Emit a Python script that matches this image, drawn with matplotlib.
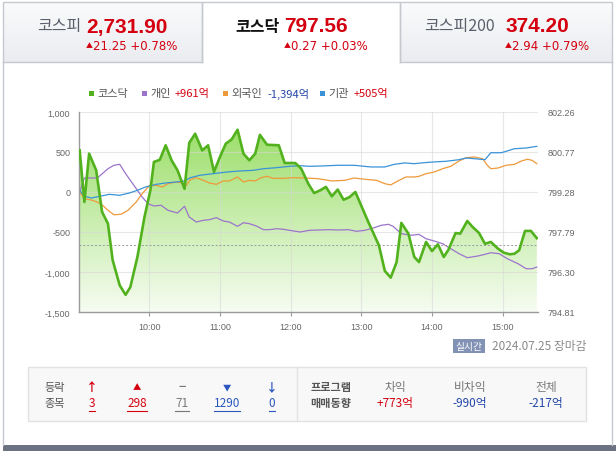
import numpy as np
import matplotlib
matplotlib.use("Agg")
import matplotlib.pyplot as plt
from matplotlib.colors import LinearSegmentedColormap
from matplotlib.patches import Rectangle

plt.rcParams['font.family'] = ['Noto Sans CJK KR', 'DejaVu Sans']

# ---- data ----
kosdaq_time = ["09:01", "09:05", "09:09", "09:15", "09:20", "09:25", "09:29", "09:35", "09:40", "09:44",
               "09:50", "09:56", "10:01", "10:04", "10:09", "10:14", "10:19", "10:24", "10:30", "10:34",
               "10:39", "10:45", "10:50", "10:55", "11:00", "11:05", "11:10", "11:15", "11:20", "11:25",
               "11:30", "11:34", "11:40", "11:50", "11:55", "12:04", "12:09", "12:15", "12:20", "12:25",
               "12:30", "12:35", "12:40", "12:45", "12:50", "12:55", "13:06", "13:15", "13:20", "13:25",
               "13:30", "13:34", "13:40", "13:45", "13:49", "13:55", "14:00", "14:05", "14:10", "14:14",
               "14:20", "14:24", "14:30", "14:34", "14:40", "14:45", "14:50", "14:56", "15:01", "15:06",
               "15:10", "15:14", "15:19", "15:24", "15:29"]
kosdaq_price = [800.83, 798.91, 800.71, 800.09, 798.54, 798.10, 796.74, 795.80, 795.45, 795.74,
                796.86, 798.35, 799.34, 800.40, 800.48, 801.02, 800.46, 800.09, 799.40, 801.11,
                801.45, 800.83, 801.02, 800.03, 800.58, 801.08, 801.24, 801.60, 800.71, 800.46,
                800.71, 801.41, 801.04, 801.02, 800.36, 800.36, 800.15, 799.59, 799.24, 799.34,
                799.47, 799.12, 799.37, 798.99, 799.09, 799.28, 798.16, 797.29, 796.34, 796.09,
                796.67, 798.13, 797.73, 796.86, 796.67, 797.42, 797.08, 797.33, 796.86, 797.13,
                797.75, 797.73, 798.20, 798.00, 797.75, 797.35, 797.42, 797.17, 797.02, 796.96,
                796.98, 797.11, 797.83, 797.83, 797.56]
prev_close = 797.29

indiv_time = ["09:01", "09:05", "09:16", "09:25", "09:30", "09:35", "09:40", "09:47", "09:54", "09:59",
              "10:04", "10:10", "10:16", "10:24", "10:30", "10:34", "10:40", "10:46", "10:51", "10:57",
              "11:03", "11:08", "11:15", "11:20", "11:25", "11:31", "11:37", "11:42", "11:48", "11:54",
              "11:59", "12:08", "12:16", "12:32", "12:40", "12:49", "12:56", "13:03", "13:11", "13:17",
              "13:23", "13:27", "13:34", "13:42", "13:49", "13:55", "14:02", "14:09", "14:16", "14:23",
              "14:30", "14:39", "14:45", "14:50", "14:57", "15:04", "15:13", "15:20", "15:25", "15:29"]
indiv_val = [0, 175, 175, 291, 334, 346, 229, 84, -63, -146,
             -175, -166, -229, -263, -179, -313, -375, -354, -346, -321,
             -363, -375, -429, -384, -396, -425, -471, -471, -459, -466,
             -479, -500, -479, -471, -475, -471, -491, -479, -446, -416,
             -404, -429, -521, -541, -530, -584, -613, -646, -709, -771,
             -821, -800, -779, -759, -771, -834, -896, -959, -959, -938]

foreign_time = ["09:01", "09:05", "09:12", "09:19", "09:25", "09:30", "09:36", "09:42", "09:49", "09:54",
                "10:00", "10:06", "10:11", "10:16", "10:23", "10:28", "10:30", "10:35", "10:40", "10:46",
                "10:51", "10:57", "11:03", "11:08", "11:15", "11:20", "11:25", "11:30", "11:35", "11:40",
                "11:45", "11:54", "12:02", "12:12", "12:23", "12:35", "12:46", "12:54", "13:03", "13:13",
                "13:20", "13:25", "13:31", "13:38", "13:45", "13:49", "13:55", "14:02", "14:09", "14:16",
                "14:23", "14:29", "14:36", "14:43", "14:47", "14:50", "14:56", "15:03", "15:10", "15:16",
                "15:21", "15:25", "15:29"]
foreign_val = [0, -83, -104, -146, -229, -284, -279, -229, -125, -21,
               75, 84, 63, 104, 125, 113, 54, 154, 179, 146,
               113, 96, 138, 138, 188, 125, 146, 138, 179, 196,
               171, 171, 179, 175, 167, 138, 146, 175, 159, 146,
               104, 88, 138, 188, 188, 196, 229, 250, 291, 321,
               388, 429, 438, 416, 334, 291, 300, 334, 346, 388,
               409, 396, 354]

inst_time = ["09:01", "09:05", "09:11", "09:18", "09:26", "09:35", "09:43", "09:50", "09:57", "10:06",
             "10:14", "10:23", "10:30", "10:35", "10:43", "10:54", "11:06", "11:17", "11:28", "11:37",
             "11:48", "11:59", "12:08", "12:16", "12:26", "12:40", "12:54", "13:08", "13:20", "13:28",
             "13:37", "13:45", "13:53", "14:01", "14:12", "14:23", "14:29", "14:36", "14:45", "14:50",
             "14:59", "15:10", "15:20", "15:29"]
inst_val = [21, -54, -75, -54, -29, -41, -13, 21, 63, 96,
            113, 125, 138, 179, 209, 229, 250, 263, 271, 291,
            304, 321, 329, 321, 325, 334, 334, 313, 313, 346,
            363, 354, 366, 375, 384, 404, 425, 416, 404, 491,
            491, 541, 550, 571]

left_ticks = [-1500, -1000, -500, 0, 500, 1000]
price_ticks = [794.81, 796.30, 797.79, 799.28, 800.77, 802.26]
hour_labels = ["10:00", "11:00", "12:00", "13:00", "14:00", "15:00"]

tabs = [("코스피", "2,731.90", "21.25 +0.78%"),
        ("코스닥", "797.56", "0.27 +0.03%"),
        ("코스피200", "374.20", "2.94 +0.79%")]
legend_items = [("코스닥", None), ("개인", "+961억"), ("외국인", "-1,394억"), ("기관", "+505억")]
updown_marks = ["↑", "▲", "−", "▼", "↓"]
updown_counts = ["3", "298", "71", "1290", "0"]
program_names = ["차익", "비차익", "전체"]
program_vals = ["+773억", "-990억", "-217억"]

RED = "#d4000f"
BLUE = "#2346a8"
C_GREEN = "#52b21e"
C_INDIV = "#9c74cc"
C_FOREIGN = "#ee9a3a"
C_INST = "#3a93d8"


def to_min(ts):
    return np.array([int(s[:2]) * 60 + int(s[3:]) - 540 for s in ts])


W, H = 616, 452
fig = plt.figure(figsize=(W / 100, H / 100), dpi=100)
bg = fig.add_axes([0, 0, 1, 1])
bg.axis('off')

# ---- tabs ----
tab_cmap = LinearSegmentedColormap.from_list('tab', ['#fafbfc', '#eaecf0'])
grad = np.linspace(0, 1, 64).reshape(-1, 1)
tab_x = [(3, 202), (202, 400), (400, 612)]
border = '#c5c8ce'
for i, (x0, x1) in enumerate(tab_x):
    if i != 1:
        bg.imshow(grad, extent=(x0, x1, 63, 3), cmap=tab_cmap, aspect='auto', zorder=0)
        bg.plot([x0, x1], [63, 63], color=border, lw=1)
    bg.plot([x0, x0, x1, x1], [63, 3, 3, 63], color=border, lw=1)

name_x = [37, 235, 424]
num_x = [86, 284, 505]
for i, (name, num, sub) in enumerate(tabs):
    sel = i == 1
    bg.text(name_x[i], 27, name, fontsize=11.5, va='center', ha='left',
            color='#111111' if sel else '#5a5f6b', fontweight='bold' if sel else 'normal')
    bg.text(num_x[i], 27, num, fontsize=15, va='center', ha='left', color=RED,
            fontweight='bold', family=['Liberation Sans', 'DejaVu Sans'])
    bg.text(num_x[i], 46, '▲', fontsize=5, va='center', ha='left', color=RED)
    bg.text(num_x[i] + 7, 46, sub, fontsize=8.5, va='center', ha='left', color=RED,
            family=['DejaVu Sans'])

# panel borders
bg.plot([3, 3], [63, 446], color=border, lw=1)
bg.plot([612, 612], [63, 446], color=border, lw=1)
bg.add_patch(Rectangle((3, 446), 613, 6, color='#6c7282', lw=0))

# ---- legend ----
leg_cols = [C_GREEN, C_INDIV, C_FOREIGN, C_INST]
leg_sq = [89, 142, 223, 320]
leg_val_x = [None, 175, 267, 354]
for i, (lab, val) in enumerate(legend_items):
    bg.add_patch(Rectangle((leg_sq[i], 91.5), 5, 5, color=leg_cols[i], lw=0))
    bg.text(leg_sq[i] + 8, 94, lab, fontsize=8, va='center', ha='left', color='#555555')
    if val:
        bg.text(leg_val_x[i], 94, val, fontsize=8, va='center', ha='left',
                color=RED if val.startswith('+') else BLUE)

# ---- badge / date ----
bg.add_patch(Rectangle((453, 340), 32, 14, color='#8192b5', lw=0))
bg.text(469, 347, '실시간', fontsize=7, color='white', ha='center', va='center')
bg.text(492, 347, '2024.07.25 장마감', fontsize=8.5, color='#8a8a8a', ha='left', va='center')

# ---- bottom table ----
bg.add_patch(Rectangle((28, 368), 558, 54, fc='#f8f8f8', ec='#e2e2e2', lw=1))
bg.plot([297, 297], [368, 422], color='#e2e2e2', lw=1)
bg.text(55, 388, '등락', fontsize=8, ha='center', va='center', color='#555555')
bg.text(55, 404, '종목', fontsize=8, ha='center', va='center', color='#555555')
ud_x = [92, 137, 182, 227, 272]
ud_cols = [RED, RED, '#777777', '#2b56c0', '#2b56c0']
ud_size = [8.5, 6, 9, 6, 8.5]
val_texts = []
for i in range(5):
    bg.text(ud_x[i], 388, updown_marks[i], fontsize=ud_size[i], ha='center', va='center',
            color=ud_cols[i], fontweight='bold')
    t = bg.text(ud_x[i], 404, updown_counts[i], fontsize=8.5, ha='center', va='center',
                color=ud_cols[i])
    val_texts.append(t)
bg.text(331, 388, '프로그램', fontsize=8, ha='center', va='center', color='#555555', fontweight='bold')
bg.text(331, 404, '매매동향', fontsize=8, ha='center', va='center', color='#555555', fontweight='bold')
prog_x = [395, 470, 546]
for i in range(3):
    bg.text(prog_x[i], 388, program_names[i], fontsize=8.5, ha='center', va='center', color='#777777')
    bg.text(prog_x[i], 404, program_vals[i], fontsize=8.5, ha='center', va='center',
            color=RED if program_vals[i].startswith('+') else BLUE)

# ---- chart axes ----
L, R, T, B = 78.5, 538, 113, 313
rect = [L / W, 1 - B / H, (R - L) / W, (B - T) / H]
ax_fill = fig.add_axes(rect)
ax = fig.add_axes(rect, sharex=ax_fill)
ax_g = fig.add_axes(rect, sharex=ax_fill)

tk = to_min(kosdaq_time)
pk = np.array(kosdaq_price)
pmin, pmax = price_ticks[0], price_ticks[-1]

# gradient fill under the KOSDAQ line
fill_cmap = LinearSegmentedColormap.from_list('fill', ['#f6fcf2', '#94dc5e'])
im = ax_fill.imshow(np.linspace(0, 1, 256).reshape(-1, 1), extent=(0, 390, pmin, pmax),
                    origin='lower', aspect='auto', cmap=fill_cmap, zorder=1)
poly = ax_fill.fill_between(tk, pk, pmin, facecolor='none', edgecolor='none')
im.set_clip_path(poly.get_paths()[0], transform=ax_fill.transData)
ax_fill.set_xlim(0, 390)
ax_fill.set_ylim(pmin, pmax)
ax_fill.axis('off')

# investor lines (left scale)
ax.patch.set_visible(False)
ax.set_ylim(-1500, 1000)
for v in left_ticks[1:]:
    ax.axhline(v, color='#d8d8d8', lw=0.8, alpha=0.6, zorder=0)
for m in range(60, 361, 60):
    ax.axvline(m, color='#d8d8d8', lw=0.8, alpha=0.6, zorder=0)
ax.plot(to_min(indiv_time), indiv_val, color=C_INDIV, lw=0.9)
ax.plot(to_min(foreign_time), foreign_val, color=C_FOREIGN, lw=0.9)
ax.plot(to_min(inst_time), inst_val, color=C_INST, lw=0.9)
ax.set_yticks(left_ticks)
ax.set_yticklabels([f"{v:,}" for v in left_ticks])
ax.set_xticks(range(60, 361, 60))
ax.set_xticklabels(hour_labels)
for s in ['top', 'right']:
    ax.spines[s].set_visible(False)
for s in ['left', 'bottom']:
    ax.spines[s].set_color('#9a9a9a')
    ax.spines[s].set_linewidth(1)
ax.tick_params(axis='y', length=0, pad=6, labelsize=6.5, labelcolor='#666666')
ax.tick_params(axis='x', length=3, color='#9a9a9a', pad=4, labelsize=6.5, labelcolor='#666666')
for lab in ax.get_xticklabels() + ax.get_yticklabels():
    lab.set_family(['Liberation Sans', 'DejaVu Sans'])

# KOSDAQ line (right scale)
ax_g.patch.set_visible(False)
ax_g.axhline(prev_close, color='#999999', lw=0.7, ls=(0, (2, 2)), zorder=1)
ax_g.plot(tk, pk, color=C_GREEN, lw=1.9, zorder=3)
ax_g.set_ylim(pmin, pmax)
ax_g.set_xlim(0, 390)
ax_g.yaxis.tick_right()
ax_g.set_yticks(price_ticks)
ax_g.set_yticklabels([f"{p:.2f}" for p in price_ticks])
ax_g.tick_params(axis='y', length=0, pad=7, labelsize=6.5, labelcolor='#666666')
ax_g.tick_params(axis='x', bottom=False, labelbottom=False)
for lab in ax_g.get_yticklabels():
    lab.set_family(['Liberation Sans', 'DejaVu Sans'])
for s in ax_g.spines.values():
    s.set_visible(False)

bg.set_xlim(0, W)
bg.set_ylim(H, 0)

# underline the up/down counts
fig.canvas.draw()
inv = bg.transData.inverted()
for t in val_texts:
    bb = t.get_window_extent()
    (x0, y0), (x1, y1) = inv.transform([[bb.x0, bb.y0], [bb.x1, bb.y1]])
    bg.plot([x0, x1], [y0 + 1, y0 + 1], color=t.get_color(), lw=0.8)
bg.set_xlim(0, W)
bg.set_ylim(H, 0)

fig.savefig('out.png', dpi=100)
